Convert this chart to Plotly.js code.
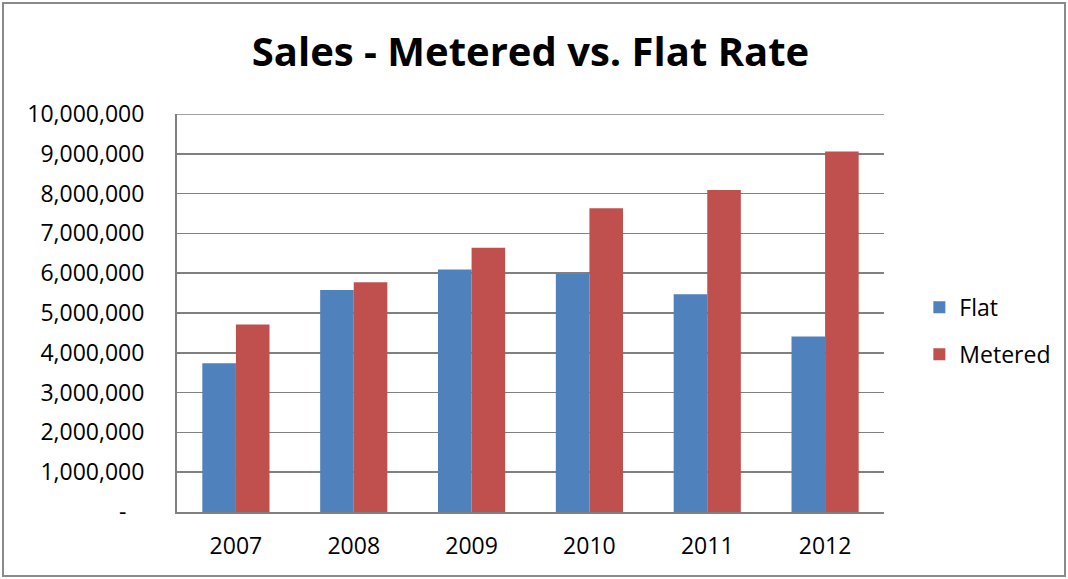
<!DOCTYPE html>
<html><head><meta charset="utf-8">
<script src="https://cdn.plot.ly/plotly-3.0.1.min.js"></script>
<style>
html,body{margin:0;padding:0;background:#fff;}
#wrap{position:relative;width:1068px;height:579px;}
#chart{width:1068px;height:579px;}
#frame{position:absolute;left:2px;top:2px;width:1060px;height:571px;border:2px solid #8a8a8a;pointer-events:none;}
</style></head>
<body>
<div id="wrap"><div id="chart"></div><div id="frame"></div></div>
<script>
const years = ['2007','2008','2009','2010','2011','2012'];
const flat = [3740000, 5580000, 6090000, 5980000, 5470000, 4410000];
const metered = [4710000, 5770000, 6640000, 7630000, 8090000, 9060000];
const yTickVals = [0,1000000,2000000,3000000,4000000,5000000,6000000,7000000,8000000,9000000,10000000];
const yTickText = ['-\u00a0\u00a0\u00a0','1,000,000','2,000,000','3,000,000','4,000,000','5,000,000','6,000,000','7,000,000','8,000,000','9,000,000','10,000,000'];

const font = 'Open Sans, Liberation Sans, sans-serif';
const yMax = yTickVals[yTickVals.length - 1];
const data = [
  {type:'bar', name:'Flat', x:years, y:flat, marker:{color:'#4F81BD', line:{width:0}}, legendgroup:'a'},
  {type:'bar', name:'Metered', x:years, y:metered, marker:{color:'#C0504D', line:{width:0}}, legendgroup:'b'}
];
const layout = {
  width:1068, height:579,
  margin:{l:177, r:184, t:114, b:67},
  paper_bgcolor:'#fff', plot_bgcolor:'#fff',
  font:{family:font, color:'#000', size:24},
  title:{text:'<b>Sales - Metered vs. Flat Rate</b>', font:{family:font, size:40, color:'#000'}, x:0.5, xanchor:'center', y:0.91, yanchor:'middle', xref:'paper'},
  barmode:'group', bargap:0.43, bargroupgap:0,
  xaxis:{type:'category', showline:true, linecolor:'#808080', linewidth:2, showgrid:false, ticks:'outside', ticklen:12, tickcolor:'rgba(0,0,0,0)', tickfont:{size:23}, fixedrange:true},
  yaxis:{range:[0,yMax], tickvals:yTickVals, ticktext:yTickText, showline:true, linecolor:'#808080', linewidth:2, showgrid:true, gridcolor:'#808080', gridwidth:1.5, zeroline:false, ticks:'outside', ticklen:26, tickcolor:'rgba(0,0,0,0)', tickfont:{size:23}, fixedrange:true},
  shapes:[{type:'line', xref:'paper', yref:'y', x0:0, x1:1, y0:yMax, y1:yMax, line:{color:'#808080', width:1.5}, layer:'below'}],
  legend:{x:1.05, xanchor:'left', y:0.455, yanchor:'middle', font:{size:23}, traceorder:'grouped', tracegroupgap:14, bgcolor:'rgba(0,0,0,0)'},
  showlegend:true
};
Plotly.newPlot('chart', data, layout, {staticPlot:true, displayModeBar:false});
</script>
</body></html>
